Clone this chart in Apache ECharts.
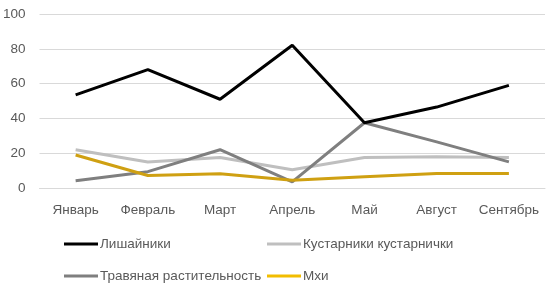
<!DOCTYPE html>
<html><head><meta charset="utf-8">
<script src="https://cdn.jsdelivr.net/npm/echarts@6/dist/echarts.min.js"></script>
<style>html,body{margin:0;padding:0;background:#fff}#c{width:557px;height:294px}</style>
</head><body><div id="c"></div>
<script>
const categories = ['Январь','Февраль','Март','Апрель','Май','Август','Сентябрь'];
const lichens = [53.5, 68, 51, 82, 37.5, 46.5, 59];
const shrubs = [22, 15, 17.5, 10.5, 17.5, 18, 17.5];
const grass = [4.2, 9.4, 22, 3.5, 37.5, 26.5, 15];
const mosses = [19, 7.2, 8.2, 4.5, 6.5, 8.3, 8.3];
const names = ['Лишайники','Кустарники кустарнички','Травяная растительность','Мхи'];
const colors = ['#000000','#bfbfbf','#7f7f7f','#cfa012'];
const legendColors = ['#000000','#bfbfbf','#7f7f7f','#f2bd00'];
const yTicks = [0,20,40,60,80,100];

const font = 'Liberation Sans, Arial, sans-serif';
const chart = echarts.init(document.getElementById('c'));
const legendPos = [[59,232],[262,232],[59,264],[262,264]];
chart.setOption({
  animation:false,
  grid:{left:38,right:12,top:14,bottom:106},
  xAxis:{type:'category',data:categories,boundaryGap:true,
    axisLine:{show:true,lineStyle:{color:'#d9d9d9',width:1}},axisTick:{show:false},
    axisLabel:{color:'#595959',fontSize:13.5,fontFamily:font,margin:15,interval:0,hideOverlap:false}},
  yAxis:{type:'value',min:yTicks[0],max:yTicks[yTicks.length-1],interval:20,
    axisLine:{show:false},axisTick:{show:false},
    splitLine:{lineStyle:{color:'#d9d9d9',width:1}},
    axisLabel:{color:'#595959',fontSize:13.5,fontFamily:font,margin:14}},
  legend: names.map((n,i)=>({data:[{name:n,itemStyle:{color:legendColors[i]}}],left:legendPos[i][0],top:legendPos[i][1],
    icon:'rect',itemWidth:34,itemHeight:3,itemGap:0,
    textStyle:{color:'#595959',fontSize:13.5,fontFamily:font,padding:[0,0,0,-3]}})),
  series:[lichens,shrubs,grass,mosses].map((d,i)=>({
    name:names[i],type:'line',data:d,showSymbol:false,symbol:'none',
    lineStyle:{color:colors[i],width:3},itemStyle:{color:colors[i]},z:[4,1,2,3][i]}))
});
</script></body></html>
